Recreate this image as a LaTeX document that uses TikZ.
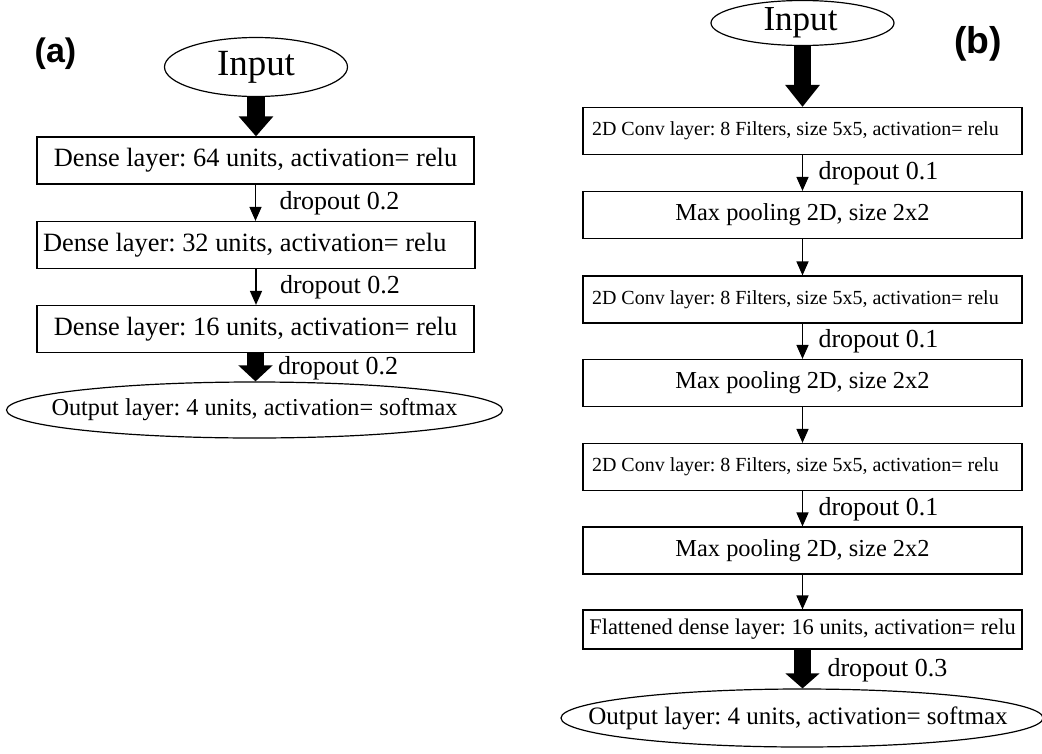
\documentclass[tikz,border=0pt]{standalone}
\usepackage{fontspec}
\setmainfont{Liberation Serif}
\newfontfamily\panelfont{Liberation Sans}
\usetikzlibrary{shapes.geometric,arrows.meta}
\newcommand{\fsz}[1]{\fontsize{#1}{#1}\selectfont}
\frenchspacing
\begin{document}
\frenchspacing
\begin{tikzpicture}[x=0.75pt,y=-0.75pt,
  layerbox/.style={draw, line width=0.9pt, inner sep=0pt, minimum height=35.25pt},
  abox/.style={layerbox, minimum width=327.75pt, font=\fsz{19.8pt}},
  bbox/.style={layerbox, minimum width=329.25pt},
  convbox/.style={bbox, font=\fsz{15pt}, inner xsep=6.75pt},
  poolbox/.style={bbox, font=\fsz{18.3pt}},
  oval/.style={draw, ellipse, line width=0.9pt, inner sep=0pt},
  thinarrow/.style={line width=1.1pt, -{Triangle[width=9pt,length=10.5pt]}},
  thickarrow/.style={line width=13pt, -{Triangle[width=25pt,length=#1]}},
  thickarrow/.default=15pt,
  droplab/.style={anchor=west, inner sep=0pt, outer sep=0pt, font=\fsz{19.5pt}},
  panellab/.style={font=\panelfont\bfseries\fsz{#1}, inner sep=0pt}
]
\useasboundingbox (0,0) rectangle (1042,753);

% ---------- panel (a) ----------
\node[panellab=25.5pt] (la) at (55.5,54) {(a)};
\node[oval, minimum width=137.25pt, minimum height=44.25pt,
      label={[font=\fsz{27.7pt}]center:{Input}}] (inA) at (256,67) {};
\node[abox] (a1) at (255.5,160.5) {Dense layer: 64 units, activation= relu};
\node[abox, inner xsep=4.5pt] (a2) at (256,245)
      {\makebox[319.5pt][l]{Dense layer: 32 units, activation= relu}};
\node[abox] (a3) at (255.5,329) {Dense layer: 16 units, activation= relu};
\node[oval, minimum width=372pt, minimum height=42pt,
      label={[font=\fsz{18.2pt}]center:{Output layer: 4 units, activation= softmax}}] (outA) at (254.5,410) {};

\draw[thickarrow] (inA.south) -- (inA.south |- a1.north);
\draw[thinarrow] (a1.south) -- (a1.south |- a2.north)
      node[droplab, midway, xshift=18pt] {dropout 0.2};
\draw[thinarrow] (a2.south) -- (a2.south |- a3.north)
      node[droplab, midway, xshift=18pt] {dropout 0.2};
\draw[thickarrow=12pt] (a3.south) -- (a3.south |- outA.north)
      node[droplab, midway, xshift=17pt, yshift=-1pt] {dropout 0.2};

% ---------- panel (b) ----------
\node[panellab=28pt] (lb) at (978,43.5) {(b)};
\node[oval, minimum width=137.25pt, minimum height=33.75pt,
      label={[font=\fsz{26.3pt}, xshift=-1.5pt]center:{Input}}] (inB) at (802.5,23) {};
\node[convbox] (b1) at (802.5,131)
      {\makebox[315.75pt][l]{2D Conv layer: 8 Filters, size 5x5, activation= relu}};
\node[poolbox] (b2) at (802.5,215) {Max pooling 2D, size 2x2};
\node[convbox] (b3) at (802.5,299.5)
      {\makebox[315.75pt][l]{2D Conv layer: 8 Filters, size 5x5, activation= relu}};
\node[poolbox] (b4) at (802.5,383) {Max pooling 2D, size 2x2};
\node[convbox] (b5) at (802.5,467)
      {\makebox[315.75pt][l]{2D Conv layer: 8 Filters, size 5x5, activation= relu}};
\node[poolbox] (b6) at (802.5,550.5) {Max pooling 2D, size 2x2};
\node[bbox, minimum height=29.25pt, font=\fsz{16.8pt}] (b7) at (802.5,629.5)
      {Flattened dense layer: 16 units, activation= relu};
\node[oval, minimum width=361.5pt, minimum height=43.5pt,
      label={[font=\fsz{18.8pt}, xshift=-3pt]center:{Output layer: 4 units, activation= softmax}}] (outB) at (802,718) {};

\draw[thickarrow=16.5pt] (inB.south) -- (inB.south |- b1.north);
\draw[thinarrow] (b1.south) -- (b1.south |- b2.north)
      node[droplab, midway, xshift=12pt] {dropout 0.1};
\draw[thinarrow] (b2.south) -- (b2.south |- b3.north);
\draw[thinarrow] (b3.south) -- (b3.south |- b4.north)
      node[droplab, midway, xshift=12pt] {dropout 0.1};
\draw[thinarrow] (b4.south) -- (b4.south |- b5.north);
\draw[thinarrow] (b5.south) -- (b5.south |- b6.north)
      node[droplab, midway, xshift=12pt] {dropout 0.1};
\draw[thinarrow] (b6.south) -- (b6.south |- b7.north);
\draw[thickarrow=11.25pt] (b7.south) -- (b7.south |- outB.north)
      node[droplab, midway, xshift=18.75pt, yshift=-1pt] {dropout 0.3};
\end{tikzpicture}
\end{document}
